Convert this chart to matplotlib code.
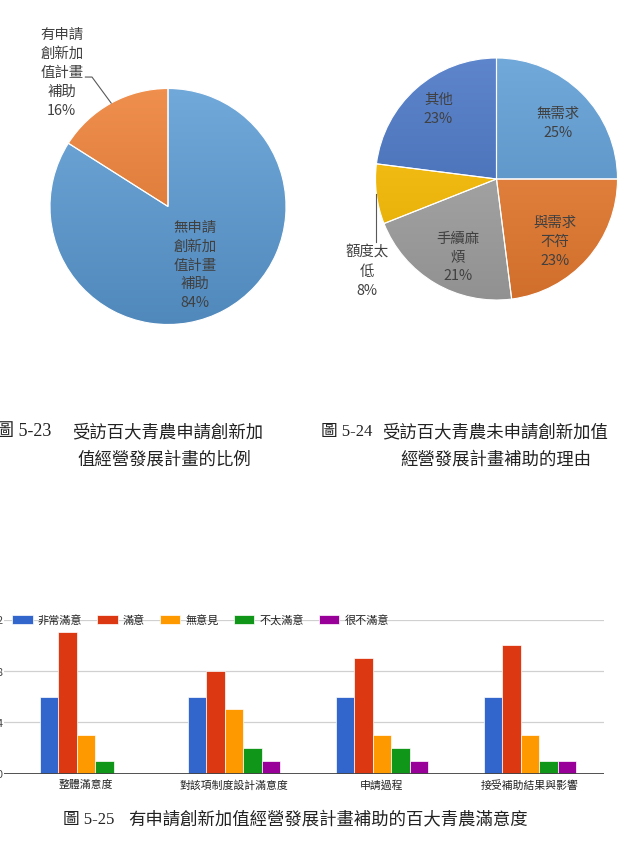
import numpy as np
import matplotlib
matplotlib.use('Agg')
import matplotlib.pyplot as plt
from matplotlib.colors import to_rgb

# ---------------- data ----------------
pie1_labels = ['無申請\n創新加\n值計畫\n補助', '有申請\n創新加\n值計畫\n補助']
pie1_values = [84, 16]
pie1_colors = ['#5B9BD5', '#ED7D31']

pie2_labels = ['無需求', '與需求\n不符', '手續麻\n煩', '額度太\n低', '其他']
pie2_values = [25, 23, 21, 8, 23]
pie2_colors = ['#5B9BD5', '#ED7D31', '#A5A5A5', '#FFC000', '#4472C4']

bar_categories = ['整體滿意度', '對該項制度設計滿意度', '申請過程', '接受補助結果與影響']
bar_series = ['非常滿意', '滿意', '無意見', '不太滿意', '很不滿意']
very_satisfied = [6, 6, 6, 6]
satisfied = [11, 8, 9, 10]
neutral = [3, 5, 3, 3]
unsatisfied = [1, 2, 2, 1]
very_unsatisfied = [0, 1, 1, 1]
bar_colors = ['#3366CC', '#DC3912', '#FF9900', '#109618', '#990099']
y_ticks = [0, 4, 8, 12]

cap1_head = '圖 5-23'
cap1_line1 = '受訪百大青農申請創新加'
cap1_line2 = '值經營發展計畫的比例'
cap2_head = '圖 5-24'
cap2_line1 = '受訪百大青農未申請創新加值'
cap2_line2 = '經營發展計畫補助的理由'
cap3_head = '圖 5-25'
cap3_line1 = '有申請創新加值經營發展計畫補助的百大青農滿意度'

# ---------------- figure ----------------
W, H = 621, 845
fig = plt.figure(figsize=(W / 100, H / 100), dpi=100)
fig.patch.set_facecolor('white')
CJK = ['Noto Sans CJK TC', 'DejaVu Sans']
CAP = ['Liberation Serif', 'Noto Sans CJK TC']


def px_axes(x0, y0, w, h):
    return fig.add_axes([x0 / W, 1 - (y0 + h) / H, w / W, h / H])


def ftext(x, y, s, **kw):
    return fig.text(x / W, 1 - y / H, s, **kw)


def shade(ax, wedges, colors):
    t = np.linspace(0, 1, 256)[:, None]
    for w, c in zip(wedges, colors):
        base = np.array(to_rgb(c))
        top = base * 0.86 + 0.14
        bot = base * 0.88
        img = (top[None, :] * (1 - t) + bot[None, :] * t)[:, None, :]
        im = ax.imshow(img, extent=[-1, 1, -1, 1], origin='upper',
                       aspect='auto', zorder=1, interpolation='bilinear')
        im.set_clip_path(w)
        w.set_facecolor('none')
        w.set_zorder(2)


label_kw = dict(ha='center', va='center', multialignment='center',
                fontsize=10.4, color='#404040', family=CJK, linespacing=1.45)

# ---------------- pie 1 ----------------
ax1 = px_axes(50, 89.5, 236, 236)
w1, _ = ax1.pie(pie1_values, colors=pie1_colors, startangle=90, counterclock=False,
                radius=1, wedgeprops=dict(edgecolor='white', linewidth=0.8))
shade(ax1, w1, pie1_colors)
ax1.set_xlim(-1, 1)
ax1.set_ylim(-1, 1)
ax1.set_aspect('auto')
ax1.axis('off')
ax1.text(0.23, -0.49, f'{pie1_labels[0]}\n{pie1_values[0]}%', **label_kw)
ax1.text(-0.9, 1.14, f'{pie1_labels[1]}\n{pie1_values[1]}%', clip_on=False, **label_kw)
th = np.deg2rad((w1[1].theta1 + w1[1].theta2) / 2)
ax1.plot([np.cos(th), -0.644, -0.70], [np.sin(th), 1.097, 1.097],
         color='#595959', lw=0.8, clip_on=False, zorder=5)

# ---------------- pie 2 ----------------
ax2 = px_axes(375.5, 59, 242, 242)
w2, _ = ax2.pie(pie2_values, colors=pie2_colors, startangle=90, counterclock=False,
                radius=1, wedgeprops=dict(edgecolor='white', linewidth=0.8))
shade(ax2, w2, pie2_colors)
ax2.set_xlim(-1, 1)
ax2.set_ylim(-1, 1)
ax2.set_aspect('auto')
ax2.axis('off')
pie2_pos = [(0.51, 0.47), (0.48, -0.51), (-0.32, -0.64), (-1.07, -0.76), (-0.48, 0.58)]
for lab, v, (px, py) in zip(pie2_labels, pie2_values, pie2_pos):
    ax2.text(px, py, f'{lab}\n{v}%', clip_on=False, **label_kw)
th = np.deg2rad((w2[3].theta1 + w2[3].theta2) / 2)
ax2.plot([np.cos(th), np.cos(th)], [np.sin(th), -0.52],
         color='#595959', lw=0.8, clip_on=False, zorder=5)

# ---------------- captions 1 & 2 ----------------
ftext(-4, 432, cap1_head, fontsize=13, family=CAP, va='center', ha='left', color='#222')
ftext(72, 432, cap1_line1, fontsize=12.5, family=CJK, va='center', ha='left', color='#222')
ftext(77, 460, cap1_line2, fontsize=12.5, family=CJK, va='center', ha='left', color='#222')
ftext(321, 432, cap2_head, fontsize=12, family=CAP, va='center', ha='left', color='#222')
ftext(382, 432, cap2_line1, fontsize=12.5, family=CJK, va='center', ha='left', color='#222')
ftext(400, 460, cap2_line2, fontsize=12.5, family=CJK, va='center', ha='left', color='#222')

# ---------------- bar chart ----------------
ax3 = px_axes(4, 620.5, 600, 154)
x = np.arange(len(bar_categories))
bw = 0.124
series = [very_satisfied, satisfied, neutral, unsatisfied, very_unsatisfied]
for i, (vals, name, col) in enumerate(zip(series, bar_series, bar_colors)):
    ax3.bar(x + (i - 2) * bw, vals, bw, color=col, label=name,
            edgecolor='white', linewidth=0.5, zorder=3)
ax3.set_xlim(-0.554, 3.5)
ax3.set_ylim(0, 12)
ax3.set_yticks(y_ticks)
ax3.grid(axis='y', color='#d0d0d0', lw=0.9, zorder=0)
ax3.set_axisbelow(True)
for s in ax3.spines.values():
    s.set_visible(False)
ax3.axhline(0, color='#444444', lw=1.3, zorder=4)
ax3.tick_params(axis='y', length=0, pad=1, labelsize=7.8, labelcolor='#444444')
ax3.set_xticks(x, bar_categories)
ax3.tick_params(axis='x', length=0, pad=4, labelsize=7.8, labelcolor='#222222')
for lab in ax3.get_xticklabels() + ax3.get_yticklabels():
    lab.set_family(CJK)
leg = ax3.legend(ncol=5, loc='center left', bbox_to_anchor=((12 - 4) / 600, 1.0),
                 frameon=False, borderpad=0, borderaxespad=0,
                 handlelength=1.85, handleheight=0.84, handletextpad=0.45,
                 columnspacing=1.35, prop={'family': CJK, 'size': 8})
for t in leg.get_texts():
    t.set_color('#222222')

# ---------------- caption 3 ----------------
ftext(63, 820, cap3_head, fontsize=12, family=CAP, va='center', ha='left', color='#222')
ftext(128, 820, cap3_line1, fontsize=12.5, family=CJK, va='center', ha='left', color='#222')

fig.savefig('out.png', dpi=100, facecolor='white')
